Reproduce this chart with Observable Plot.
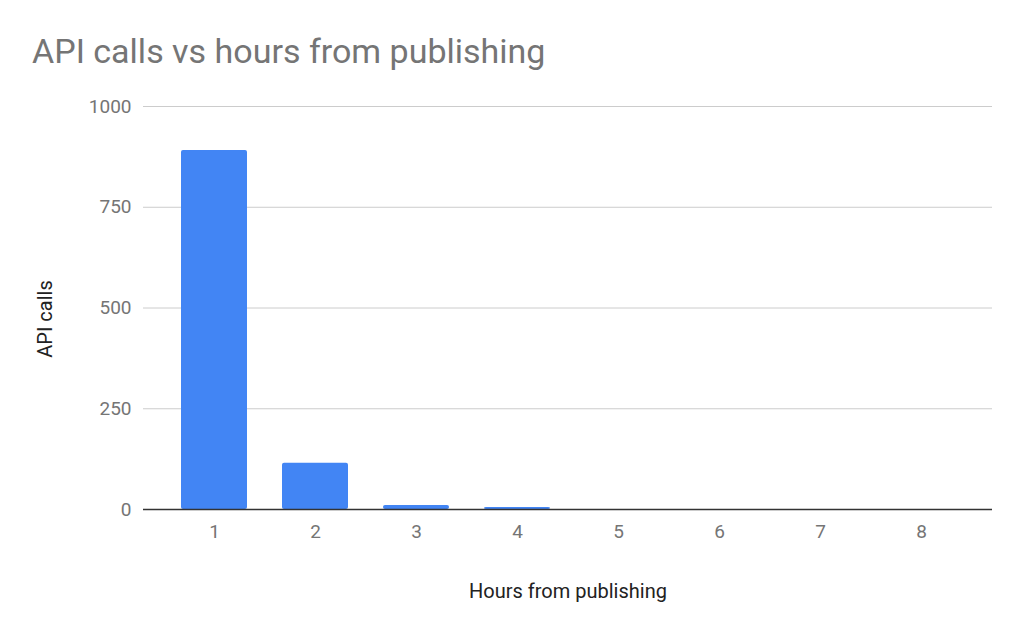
<!DOCTYPE html>
<html>
<head>
<meta charset="utf-8">
<script src="https://cdn.jsdelivr.net/npm/d3@7"></script>
<script src="https://cdn.jsdelivr.net/npm/@observablehq/plot@0.6"></script>
<style>
  html, body { margin: 0; padding: 0; background: #fff; }
  #wrap { width: 1024px; height: 633px; overflow: hidden; font-family: Roboto, sans-serif; }
  #title { height: 90px; box-sizing: border-box; padding-top: 34px; padding-left: 32px;
           font-size: 34px; line-height: 34px; color: #757575; font-family: Roboto, sans-serif; }
</style>
</head>
<body>
<div id="wrap">
  <div id="title">API calls vs hours from publishing</div>
  <div id="chart"></div>
</div>
<script>
const hours = [1, 2, 3, 4, 5, 6, 7, 8];
const apiCalls = [891, 115, 10, 5, 0, 0, 0, 0];
const yTicks = [0, 250, 500, 750, 1000];
const xTitle = "Hours from publishing";
const yTitle = "API calls";

const data = hours.map((h, i) => ({hour: h, calls: apiCalls[i]}));

const chart = Plot.plot({
  width: 1024,
  height: 543,
  marginLeft: 143,
  marginRight: 32,
  marginTop: 16,
  marginBottom: 124,
  style: {fontFamily: "Roboto, sans-serif", fontSize: "19px", color: "#757575", background: "#fff"},
  x: {type: "band", domain: hours, padding: 0.35},
  y: {domain: [0, 1000]},
  marks: [
    Plot.gridY(yTicks, {stroke: "#cccccc", strokeOpacity: 1, strokeWidth: 1}),
    Plot.barY(data, {x: "hour", y: "calls", fill: "#4285f4", rx: 2}),
    Plot.ruleY([0], {stroke: "#333333", strokeWidth: 1.5}),
    Plot.axisY(yTicks, {tickSize: 0, tickPadding: 12, fontSize: 19, fill: "#757575",
      tickFormat: d => String(d), label: null}),
    Plot.axisX({tickSize: 0, tickPadding: 15, fontSize: 19, fill: "#757575", label: null}),
    Plot.text([yTitle], {text: d => d, frameAnchor: "left", textAnchor: "middle", lineAnchor: "middle",
      dx: -98, dy: 11, rotate: -90, fontSize: 20, fill: "#222222"}),
    Plot.text([xTitle], {text: d => d, frameAnchor: "bottom", dy: 88,
      fontSize: 20, fill: "#222222"})
  ]
});
document.getElementById("chart").appendChild(chart);
</script>
</body>
</html>
